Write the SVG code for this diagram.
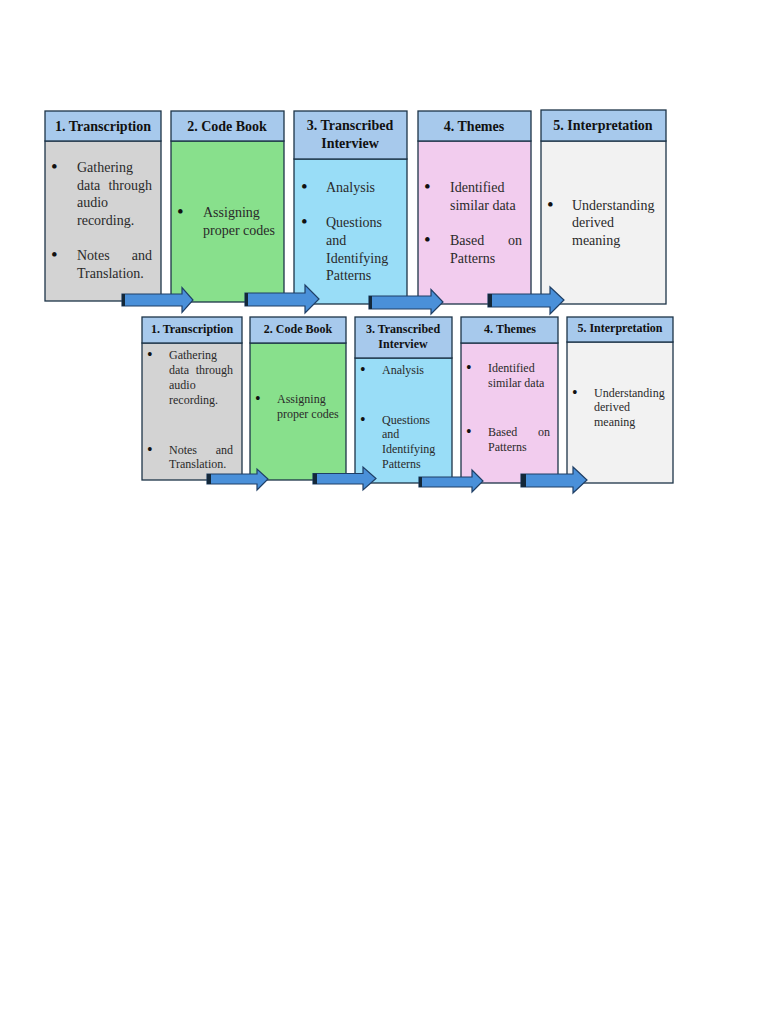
<svg xmlns="http://www.w3.org/2000/svg" width="768" height="1024" viewBox="0 0 768 1024">
<style>
.hd{fill:#A7C9EC;stroke:#1D3448;stroke-width:1.3}
.bd{stroke:#1D3448;stroke-width:1.3}
.ht{font-family:"Liberation Serif",serif;font-weight:bold;fill:#111;text-anchor:middle}
.bt{font-family:"Liberation Serif",serif;fill:#2a2a2a}
.t1{font-size:14px}
.t2{font-size:12px}
.b1{font-size:19px;fill:#111}
.b2{font-size:16px;fill:#111}
.e{text-anchor:end}
.arr{fill:#4A90D9;stroke:#1F3F66;stroke-width:1.2}
.tail{fill:#13283A}
</style>
<rect width="768" height="1024" fill="#fff"/>

<!-- Top row -->
<g id="top1">
<rect class="bd" x="45" y="141" width="116" height="160" fill="#D3D3D3"/>
<rect class="hd" x="45" y="111" width="116" height="30"/>
<text class="ht t1" x="103" y="131">1. Transcription</text>
<g class="bt t1">
<text class="b1" x="51" y="173">•</text>
<text x="77" y="172">Gathering</text>
<text x="77" y="190">data</text>
<text class="e" x="152" y="190">through</text>
<text x="77" y="207">audio</text>
<text x="77" y="225">recording.</text>
<text class="b1" x="51" y="261">•</text>
<text x="77" y="260">Notes</text>
<text class="e" x="152" y="260">and</text>
<text x="77" y="278">Translation.</text>
</g>
</g>
<g id="top2">
<rect class="bd" x="171" y="141" width="113" height="161" fill="#88E08C"/>
<rect class="hd" x="171" y="111" width="113" height="30"/>
<text class="ht t1" x="227" y="131">2. Code Book</text>
<g class="bt t1">
<text class="b1" x="177" y="218">•</text>
<text x="203" y="217">Assigning</text>
<text x="203" y="235">proper codes</text>
</g>
</g>
<g id="top3">
<rect class="bd" x="294" y="159" width="113" height="145" fill="#99DDF7"/>
<rect class="hd" x="294" y="111" width="113" height="48"/>
<text class="ht t1" x="350" y="130">3. Transcribed</text>
<text class="ht t1" x="350" y="148">Interview</text>
<g class="bt t1">
<text class="b1" x="301" y="193">•</text>
<text x="326" y="192">Analysis</text>
<text class="b1" x="301" y="228">•</text>
<text x="326" y="227">Questions</text>
<text x="326" y="245">and</text>
<text x="326" y="263">Identifying</text>
<text x="326" y="280">Patterns</text>
</g>
</g>
<g id="top4">
<rect class="bd" x="418" y="141" width="113" height="163" fill="#F2CCEE"/>
<rect class="hd" x="418" y="111" width="113" height="30"/>
<text class="ht t1" x="474" y="131">4. Themes</text>
<g class="bt t1">
<text class="b1" x="424" y="193">•</text>
<text x="450" y="192">Identified</text>
<text x="450" y="210">similar data</text>
<text class="b1" x="424" y="246">•</text>
<text x="450" y="245">Based</text>
<text class="e" x="522" y="245">on</text>
<text x="450" y="263">Patterns</text>
</g>
</g>
<g id="top5">
<rect class="bd" x="541" y="141" width="125" height="163" fill="#F2F2F2"/>
<rect class="hd" x="541" y="110" width="125" height="31"/>
<text class="ht t1" x="603" y="130">5. Interpretation</text>
<g class="bt t1">
<text class="b1" x="547" y="211">•</text>
<text x="572" y="210">Understanding</text>
<text x="572" y="227">derived</text>
<text x="572" y="245">meaning</text>
</g>
</g>

<!-- Bottom row -->
<g id="bot1">
<rect class="bd" x="142" y="343" width="100" height="137" fill="#D3D3D3"/>
<rect class="hd" x="142" y="317" width="100" height="26"/>
<text class="ht t2" x="192" y="333">1. Transcription</text>
<g class="bt t2">
<text class="b2" x="147" y="360">•</text>
<text x="169" y="359">Gathering</text>
<text x="169" y="374">data</text>
<text class="e" x="233" y="374">through</text>
<text x="169" y="389">audio</text>
<text x="169" y="404">recording.</text>
<text class="b2" x="147" y="455">•</text>
<text x="169" y="454">Notes</text>
<text class="e" x="233" y="454">and</text>
<text x="169" y="468">Translation.</text>
</g>
</g>
<g id="bot2">
<rect class="bd" x="250" y="343" width="96" height="137" fill="#88E08C"/>
<rect class="hd" x="250" y="317" width="96" height="26"/>
<text class="ht t2" x="298" y="333">2. Code Book</text>
<g class="bt t2">
<text class="b2" x="255" y="404">•</text>
<text x="277" y="403">Assigning</text>
<text x="277" y="418">proper codes</text>
</g>
</g>
<g id="bot3">
<rect class="bd" x="355" y="358" width="97" height="125" fill="#99DDF7"/>
<rect class="hd" x="355" y="317" width="97" height="41"/>
<text class="ht t2" x="403" y="333">3. Transcribed</text>
<text class="ht t2" x="403" y="348">Interview</text>
<g class="bt t2">
<text class="b2" x="360" y="375">•</text>
<text x="382" y="374">Analysis</text>
<text class="b2" x="360" y="425">•</text>
<text x="382" y="424">Questions</text>
<text x="382" y="438">and</text>
<text x="382" y="453">Identifying</text>
<text x="382" y="468">Patterns</text>
</g>
</g>
<g id="bot4">
<rect class="bd" x="461" y="343" width="97" height="140" fill="#F2CCEE"/>
<rect class="hd" x="461" y="317" width="97" height="26"/>
<text class="ht t2" x="510" y="333">4. Themes</text>
<g class="bt t2">
<text class="b2" x="466" y="373">•</text>
<text x="488" y="372">Identified</text>
<text x="488" y="387">similar data</text>
<text class="b2" x="466" y="437">•</text>
<text x="488" y="436">Based</text>
<text class="e" x="550" y="436">on</text>
<text x="488" y="451">Patterns</text>
</g>
</g>
<g id="bot5">
<rect class="bd" x="567" y="342" width="106" height="141" fill="#F2F2F2"/>
<rect class="hd" x="567" y="317" width="106" height="25"/>
<text class="ht t2" x="620" y="332">5. Interpretation</text>
<g class="bt t2">
<text class="b2" x="572" y="398">•</text>
<text x="594" y="397">Understanding</text>
<text x="594" y="411">derived</text>
<text x="594" y="426">meaning</text>
</g>
</g>

<!-- Connectors -->
<g id="connectors">
<polygon class="arr" points="122,294 182,294 182,287.5 193,300 182,312.5 182,306 122,306"/>
<rect class="tail" x="122" y="294" width="3" height="12"/>
<polygon class="arr" points="245,293 305,293 305,285 319,299 305,313 305,306 245,306"/>
<rect class="tail" x="245" y="293" width="3" height="13"/>
<polygon class="arr" points="369,296 431,296 431,289.5 443,302 431,314 431,309 369,309"/>
<rect class="tail" x="369" y="296" width="3" height="13"/>
<polygon class="arr" points="488,294 550,294 550,287 564,300 550,314 550,307 488,307"/>
<rect class="tail" x="488" y="294" width="4" height="13"/>

<polygon class="arr" points="207,474 257,474 257,469 268,479 257,490 257,484 207,484"/>
<rect class="tail" x="207" y="474" width="4" height="10"/>
<polygon class="arr" points="313,473.5 363,473.5 363,467 376,478.5 363,490 363,484 313,484"/>
<rect class="tail" x="313" y="473.5" width="4" height="10.5"/>
<polygon class="arr" points="419,477 472,477 472,470 483,481 472,492 472,487 419,487"/>
<rect class="tail" x="419" y="477" width="3" height="10"/>
<polygon class="arr" points="521,474 573,474 573,467 587,480 573,493 573,487 521,487"/>
<rect class="tail" x="521" y="474" width="5" height="13"/>
</g>
</svg>
